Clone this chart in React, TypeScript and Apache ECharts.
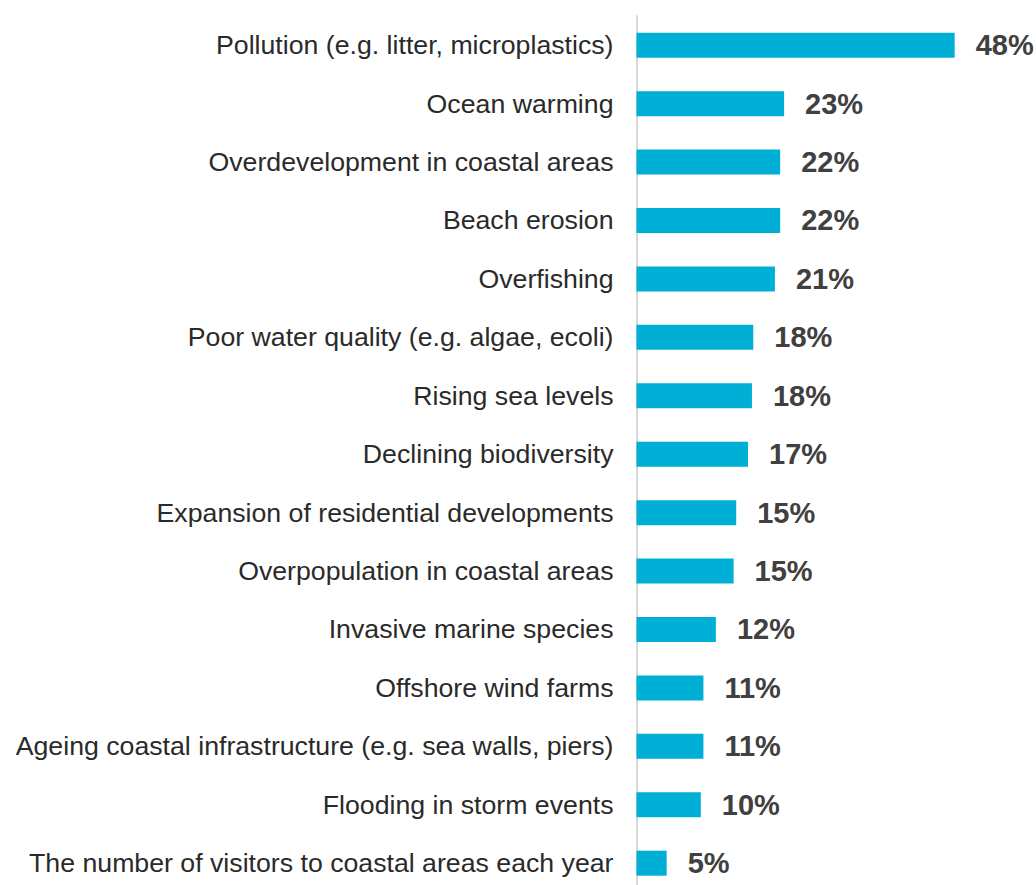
import React, { useEffect, useRef } from "react";
import * as echarts from "echarts";

const categories = [
  "Pollution (e.g. litter, microplastics)",
  "Ocean warming",
  "Overdevelopment in coastal areas",
  "Beach erosion",
  "Overfishing",
  "Poor water quality (e.g. algae, ecoli)",
  "Rising sea levels",
  "Declining biodiversity",
  "Expansion of residential developments",
  "Overpopulation in coastal areas",
  "Invasive marine species",
  "Offshore wind farms",
  "Ageing coastal infrastructure (e.g. sea walls, piers)",
  "Flooding in storm events",
  "The number of visitors to coastal areas each year",
];

// Bar lengths (percent)
const values = [48.5, 22.5, 21.9, 21.9, 21.1, 17.8, 17.6, 17.0, 15.2, 14.8, 12.1, 10.2, 10.2, 9.8, 4.6];

// Printed labels
const valueLabels = ["48%", "23%", "22%", "22%", "21%", "18%", "18%", "17%", "15%", "15%", "12%", "11%", "11%", "10%", "5%"];

export default function App() {
  const ref = useRef<HTMLDivElement>(null);

  useEffect(() => {
    if (!ref.current) return;
    const chart = echarts.init(ref.current, null, { renderer: "svg" });
    chart.setOption({
      animation: false,
      backgroundColor: "#ffffff",
      grid: { left: 636.5, top: 16, width: 393.6, height: 876.4 },
      xAxis: {
        type: "value",
        min: 0,
        max: 60,
        show: false,
      },
      yAxis: {
        type: "category",
        inverse: true,
        data: categories,
        axisLine: { show: true, lineStyle: { color: "#d9d9d9", width: 2 } },
        axisTick: { show: false },
        splitLine: { show: false },
        axisLabel: {
          fontFamily: "Liberation Sans, Arial, sans-serif",
          fontSize: 26.7,
          color: "#2a2a2a",
          margin: 23,
        },
      },
      series: [
        {
          type: "bar",
          data: values,
          barWidth: 25,
          itemStyle: { color: "#00afd6" },
          label: {
            show: true,
            position: "right",
            distance: 21,
            formatter: (p: any) => valueLabels[p.dataIndex],
            fontFamily: "Liberation Sans, Arial, sans-serif",
            fontSize: 29,
            fontWeight: "bold",
            color: "#404040",
          },
        },
      ],
    });
    return () => chart.dispose();
  }, []);

  return (
    <div
      style={{ position: "fixed", left: 0, top: 0, width: 1036, height: 885, overflow: "hidden", background: "#fff" }}
    >
      <div ref={ref} style={{ width: 1036, height: 900 }} />
    </div>
  );
}
